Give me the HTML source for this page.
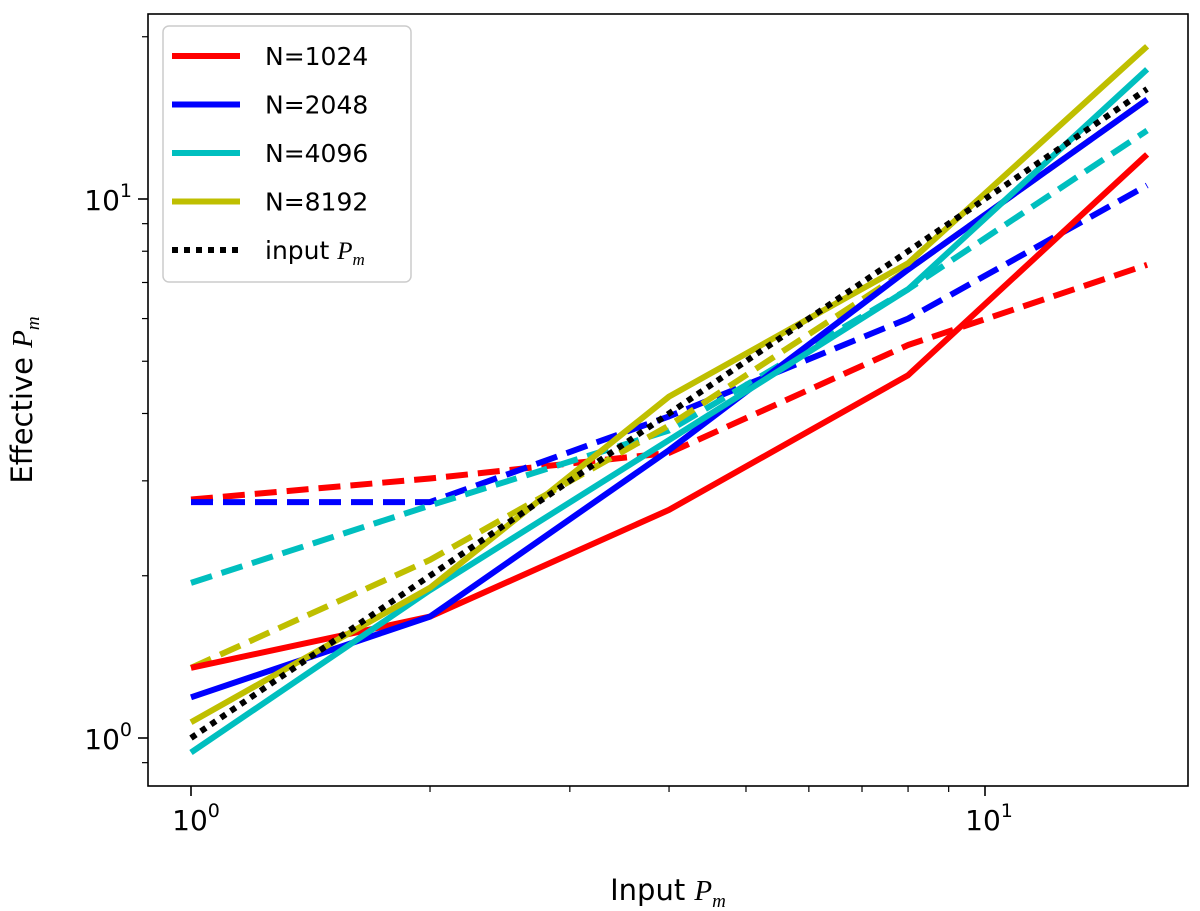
<!DOCTYPE html>
<html><head><meta charset="utf-8">
<style>
html,body{margin:0;padding:0;background:#fff;}
svg{display:block;font-family:"DejaVu Sans","Liberation Sans",sans-serif;}
</style></head>
<body>
<svg id="chart" width="1200" height="911" viewBox="0 0 1200 911" xmlns="http://www.w3.org/2000/svg"></svg>
<script>
const xValues = [1, 2, 4, 8, 16];
const red1024Solid = [1.35, 1.68, 2.65, 4.71, 12.1];
const red1024Dashed = [2.77, 3.03, 3.38, 5.36, 7.55];
const blue2048Solid = [1.19, 1.68, 3.42, 7.4, 15.3];
const blue2048Dashed = [2.74, 2.74, 3.95, 6.0, 10.6];
const cyan4096Solid = [0.94, 1.88, 3.57, 6.8, 17.4];
const cyan4096Dashed = [1.94, 2.7, 3.72, 6.8, 13.4];
const olive8192Solid = [1.07, 1.9, 4.3, 7.6, 19.2];
const olive8192Dashed = [1.35, 2.14, 3.8, 7.4, 15.3];
const inputPm = [1, 2, 4, 8, 16];
const legendLabels = ["N=1024", "N=2048", "N=4096", "N=8192", "input "];

const NS = "http://www.w3.org/2000/svg";
const svg = document.getElementById("chart");
const L = 148, R = 1188, T = 14, B = 786;
function xs(v){ return 191 + 794 * Math.log10(v); }
function ys(v){ return 738 - 539 * Math.log10(v); }
function mk(tag, attrs, parent){
  const e = document.createElementNS(NS, tag);
  for (const k in attrs) e.setAttribute(k, attrs[k]);
  (parent || svg).appendChild(e);
  return e;
}

const tickG = mk("g", {});


for (let d = 0; d <= 1; d++) for (let m = 1; m <= 9; m++) {
  const v = m * Math.pow(10, d);
  const x = xs(v);
  if (x >= L && x <= R) mk("line", {x1:x, x2:x, y1:B, y2:B + (m===1?10:6), stroke:"#000", "stroke-width":m===1?1.6:1.2}, tickG);
}
for (let d = -1; d <= 1; d++) for (let m = 1; m <= 9; m++) {
  const v = m * Math.pow(10, d);
  const y = ys(v);
  if (y >= T && y <= B) mk("line", {x1:L, x2:L - (m===1?10:6), y1:y, y2:y, stroke:"#000", "stroke-width":m===1?1.6:1.2}, tickG);
}
function powLabel(x, y, exp, anchor, name){
  const t = mk("text", {x:x, y:y, "font-size":28, "text-anchor":anchor});
  
  
  t.textContent = "10";
  const s = mk("tspan", {dy:-13, "font-size":19}, t);
  s.textContent = exp;
  return t;
}
powLabel(196, 830, "0", "middle", "x-tick-label-1");
powLabel(989, 830, "1", "middle", "x-tick-label-10");
powLabel(132, 749, "0", "end", "y-tick-label-1");
powLabel(132, 210, "1", "end", "y-tick-label-10");

const xt = mk("text", {x:668, y:900, "font-size":29, "text-anchor":"middle"});


xt.innerHTML = 'Input <tspan font-family="Liberation Serif" font-style="italic">P</tspan><tspan font-size="19" dy="7" font-family="Liberation Serif" font-style="italic">m</tspan>';
const yt = mk("text", {x:0, y:0, "font-size":29, "text-anchor":"middle", transform:"translate(32,400) rotate(-90)"});


yt.innerHTML = 'Effective <tspan font-family="Liberation Serif" font-style="italic">P</tspan><tspan font-size="19" dy="7" font-family="Liberation Serif" font-style="italic">m</tspan>';

const clip = mk("clipPath", {id:"clip"});
mk("rect", {x:L, y:T, width:R-L, height:B-T}, clip);
const plotG = mk("g", {"clip-path":"url(#clip)"});


const series = [
  [red1024Dashed, "#ff0000", "22 10", "series-n1024-dashed"],
  [blue2048Dashed, "#0000ff", "22 10", "series-n2048-dashed"],
  [cyan4096Dashed, "#00bfbf", "22 10", "series-n4096-dashed"],
  [olive8192Dashed, "#bfbf00", "22 10", "series-n8192-dashed"],
  [red1024Solid, "#ff0000", null, "series-n1024"],
  [blue2048Solid, "#0000ff", null, "series-n2048"],
  [cyan4096Solid, "#00bfbf", null, "series-n4096"],
  [olive8192Solid, "#bfbf00", null, "series-n8192"],
  [inputPm, "#000000", "6 6", "series-input-pm"]
];
series.forEach(s => {
  const pts = xValues.map((x,i) => xs(x).toFixed(1) + "," + ys(s[0][i]).toFixed(1)).join(" ");
  const a = {points:pts, fill:"none", stroke:s[1], "stroke-width":6, "stroke-linejoin":"round"};
  if (s[2]) a["stroke-dasharray"] = s[2];
  const p = mk("polyline", a, plotG);
  
  
});

const fr = mk("rect", {x:L, y:T, width:R-L, height:B-T, fill:"none", stroke:"#000", "stroke-width":1.6});



const lg = mk("g", {});


mk("rect", {x:163, y:26, width:248, height:256, rx:6, fill:"#fff", stroke:"#ccc", "stroke-width":1.5}, lg);
const lcol = ["#ff0000","#0000ff","#00bfbf","#bfbf00","#000000"];
legendLabels.forEach((lab, i) => {
  const y = 56 + i * 48.5;
  const e = mk("g", {}, lg);
  
  
  const la = {x1:172, x2:240, y1:y, y2:y, stroke:lcol[i], "stroke-width":6};
  if (i === 4) la["stroke-dasharray"] = "6 6";
  mk("line", la, e);
  const t = mk("text", {x:265, y:y + 9, "font-size":25}, e);
  t.textContent = lab;
  if (i === 4) {
    const p = mk("tspan", {"font-family":"Liberation Serif", "font-style":"italic"}, t); p.textContent = "P";
    const m = mk("tspan", {"font-size":17, dy:6, "font-family":"Liberation Serif", "font-style":"italic"}, t); m.textContent = "m";
  }
});
</script>
</body></html>
